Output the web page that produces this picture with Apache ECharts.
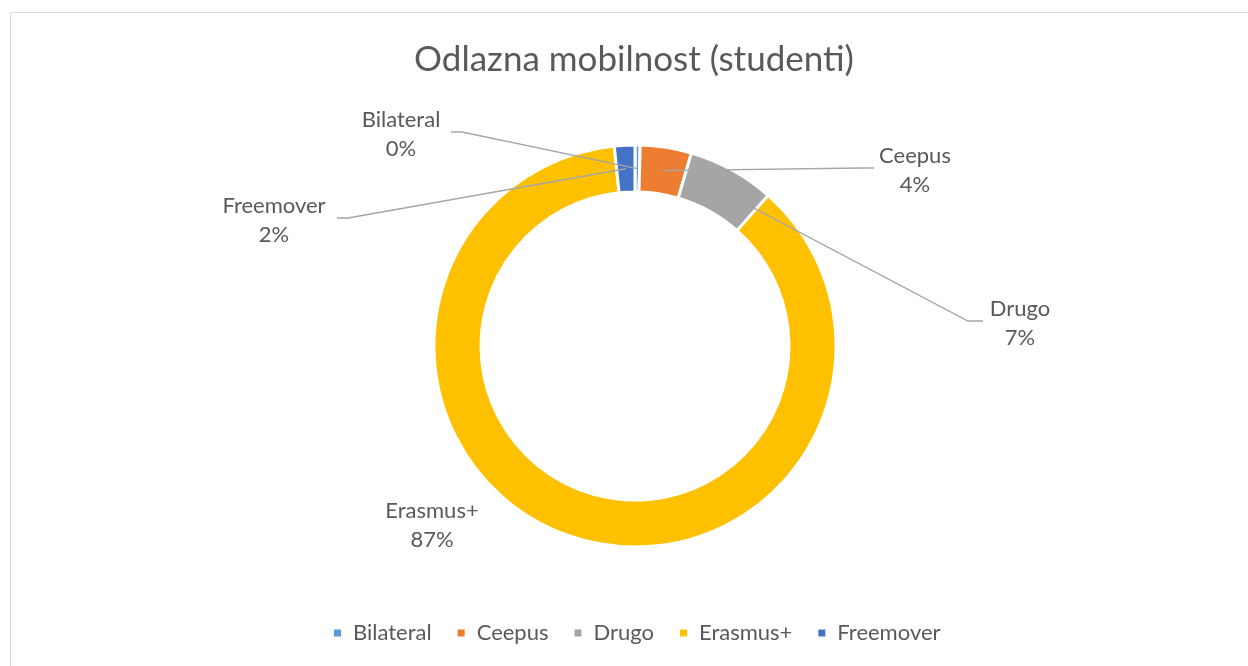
<!DOCTYPE html>
<html>
<head>
<meta charset="utf-8">
<script src="https://cdn.jsdelivr.net/npm/echarts@6/dist/echarts.min.js"></script>
<style>
  html, body { margin: 0; padding: 0; background: #fff; }
  #frame {
    position: absolute; left: 10px; top: 12px; width: 1300px; height: 720px;
    border-top: 1.5px solid #d9d9d9; border-left: 1.5px solid #d9d9d9;
  }
  #chart { position: absolute; left: 0; top: 0; width: 1248px; height: 666px; }
</style>
</head>
<body>
<div id="frame"></div>
<div id="chart"></div>
<script>
// data
const categories = ["Bilateral", "Ceepus", "Drugo", "Erasmus+", "Freemover"];
const counts = [1, 10, 17, 211, 4];
const colors = ["#5B9BD5", "#ED7D31", "#A5A5A5", "#FFC000", "#4472C4"];

// where each label block sits (Excel placed them by hand)
const labelSpots = [
  { x: 401, y: 134, stub: [451, 462] },
  { x: 915, y: 170, stub: [874, 862] },
  { x: 1020, y: 323, stub: [983, 968] },
  { x: 432, y: 525, stub: null },
  { x: 274, y: 220, stub: [337, 348] },
];

const CX = 635, CY = 346, R_IN = 154, R_OUT = 201;
const FONT = "Lato, 'Open Sans', sans-serif";
const GREY = "#595959";

const total = counts.reduce((s, v) => s + v, 0);
// mid-ring point of each slice, clockwise from 12 o'clock
const anchors = [];
let acc = 0;
counts.forEach((v) => {
  const mid = ((acc + v / 2) / total) * Math.PI * 2;
  const r = (R_IN + R_OUT) / 2;
  anchors.push([CX + r * Math.sin(mid), CY - r * Math.cos(mid)]);
  acc += v;
});

const ring = {
  type: "pie",
  center: [CX, CY],
  radius: [R_IN, R_OUT],
  startAngle: 90,
  clockwise: true,
  avoidLabelOverlap: false,
  emphasis: { disabled: true },
};

const chart = echarts.init(document.getElementById("chart"), null, { renderer: "canvas" });

chart.setOption({
  animation: false,
  color: colors,
  title: {
    text: "Odlazna mobilnost (studenti)",
    left: CX - 6,
    textAlign: "center",
    top: 37,
    textStyle: { fontFamily: FONT, fontSize: 35, fontWeight: "normal", color: GREY },
  },
  legend: {
    bottom: 17,
    left: 327,
    icon: "rect",
    itemWidth: 9,
    itemHeight: 9,
    itemGap: 24,
    textStyle: { fontFamily: FONT, fontSize: 22, color: GREY, padding: [0, 0, 0, 6] },
    data: categories,
  },
  series: [
    // the coloured ring
    Object.assign({}, ring, {
      z: 2,
      itemStyle: { borderColor: "#fff", borderWidth: 3 },
      label: { show: false },
      labelLine: { show: false },
      data: categories.map((name, i) => ({ name, value: counts[i] })),
    }),
    // an invisible copy on top that carries the labels, so leader lines cross the ring
    Object.assign({}, ring, {
      z: 3,
      silent: true,
      itemStyle: { color: "rgba(0,0,0,0)", borderWidth: 0 },
      label: {
        show: true,
        position: "outside",
        fontFamily: FONT,
        fontSize: 22,
        lineHeight: 29,
        color: GREY,
        align: "center",
        formatter: (p) => `${p.name}\n${Math.round(p.percent)}%`,
      },
      labelLine: { show: true, showAbove: true, lineStyle: { color: "#a6a6a6", width: 1.3 } },
      labelLayout: (params) => {
        const i = params.dataIndex;
        const spot = labelSpots[i];
        const out = { x: spot.x, y: spot.y, align: "center", verticalAlign: "middle" };
        if (spot.stub) {
          const ly = spot.y - 2;
          out.labelLinePoints = [anchors[i], [spot.stub[1], ly], [spot.stub[0], ly]];
        }
        return out;
      },
      data: categories.map((name, i) => ({
        name,
        value: counts[i],
        labelLine: { show: labelSpots[i].stub !== null },
      })),
    }),
  ],
});
</script>
</body>
</html>
